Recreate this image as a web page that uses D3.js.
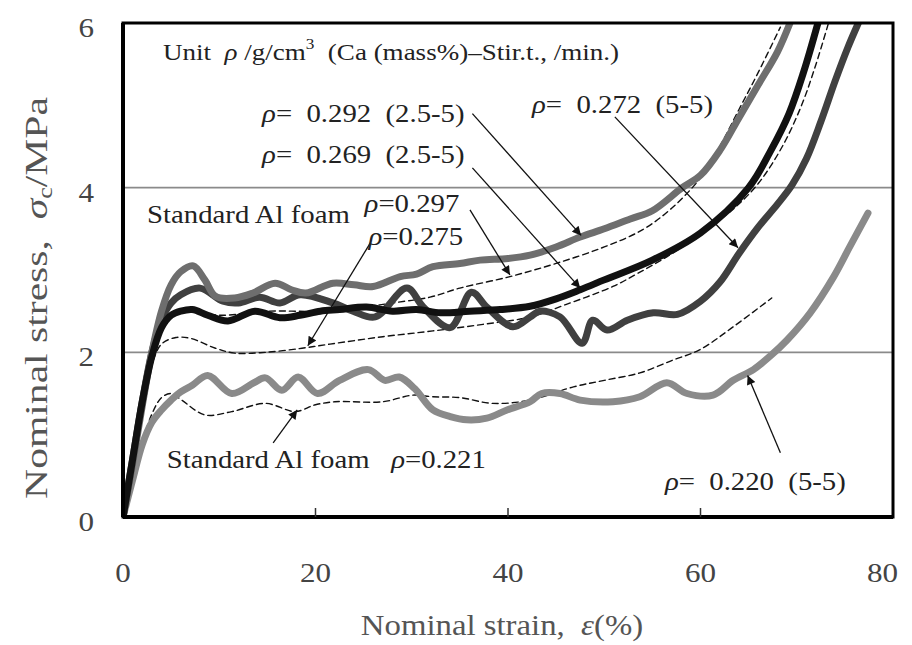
<!DOCTYPE html>
<html>
<head>
<meta charset="utf-8">
<script src="https://cdn.jsdelivr.net/npm/d3@7"></script>
<style>
  body { margin: 0; background: #fff; }
  svg { display: block; }
  text { font-family: "Liberation Serif", "Times New Roman", serif; white-space: pre; }
</style>
</head>
<body>
<svg id="chart" width="912" height="645"></svg>
<script>
// axis ticks
const xTicks = [0, 20, 40, 60, 80]
const yTicks = [0, 2, 4, 6]
const gridLines = [2, 4]

// [strain %, stress MPa]
const foam292 = [[0,0],[1,0.65],[2,1.35],[3,2.0],[4,2.5],[5,2.82],[6,2.98],[7.3,3.05],[8.5,2.88],[9.6,2.68],
  [11.6,2.66],[13.5,2.72],[15.8,2.84],[17.5,2.76],[19,2.72],[21.8,2.84],[24,2.82],[26,2.8],[28.8,2.92],
  [30.5,2.95],[32.2,3.04],[35,3.08],[37.1,3.12],[40,3.14],[42.3,3.18],[45,3.28],[47.5,3.4],[50,3.5],
  [52.7,3.62],[55,3.72],[58.1,4.0],[60,4.15],[62,4.45],[64,4.85],[66,5.25],[68,5.65],[69.3,6.0]]
const foam269 = [[0,0],[1,0.7],[2,1.4],[3,1.95],[4,2.3],[5,2.45],[6,2.5],[7.2,2.52],[8.8,2.45],[10.9,2.38],
  [13.7,2.5],[16.3,2.42],[18.4,2.45],[20.5,2.5],[22.5,2.52],[25.3,2.55],[28,2.5],[30.5,2.52],[33,2.48],
  [36,2.5],[39.2,2.52],[42.3,2.56],[45,2.65],[47.5,2.76],[50,2.88],[55,3.12],[60,3.45],[65,4.0],
  [67.3,4.45],[69.2,4.9],[70.7,5.4],[72.2,6.0]]
const foam272 = [[0,0],[1,0.7],[2,1.4],[3,2.0],[4,2.4],[5,2.6],[6,2.7],[8,2.78],[10.4,2.62],[12,2.6],
  [14.2,2.67],[16.3,2.6],[18.4,2.7],[21.8,2.6],[23.9,2.5],[26.2,2.43],[29.5,2.78],[31.2,2.55],[34,2.3],
  [36.2,2.73],[37.8,2.55],[40.5,2.31],[42.3,2.43],[43.3,2.5],[45.4,2.43],[47.7,2.11],[48.8,2.39],
  [50.3,2.27],[52.4,2.39],[55.1,2.48],[57.6,2.46],[60,2.62],[62,2.85],[64,3.2],[66,3.52],[68,3.8],
  [69.5,4.03],[71,4.35],[72.5,4.8],[74,5.3],[75.3,5.7],[76.4,6.0]]
const foam220 = [[0,0],[1,0.45],[2,0.88],[3,1.15],[4,1.3],[5,1.42],[6,1.52],[7.2,1.6],[8.8,1.72],[11.3,1.5],
  [13.6,1.63],[14.8,1.69],[16.5,1.54],[18.2,1.7],[20.2,1.5],[22.5,1.66],[25.5,1.79],[27.2,1.66],
  [28.7,1.7],[30.3,1.56],[32.2,1.3],[34,1.22],[35.7,1.18],[37.8,1.2],[39.9,1.3],[42.3,1.4],[43.5,1.5],
  [45.4,1.5],[47.5,1.42],[50.9,1.4],[53.7,1.46],[56.5,1.63],[58.6,1.5],[61.3,1.48],[63.4,1.66],
  [65.5,1.79],[67.2,1.95],[69,2.15],[71.4,2.48],[73.8,2.91],[75.5,3.28],[77.4,3.69]]
const std297 = [[0,0],[1,0.7],[2,1.45],[3,2.05],[4,2.35],[5,2.45],[7,2.5],[10,2.45],[15,2.5],[20,2.5],
  [25,2.55],[28,2.6],[31.9,2.67],[35,2.78],[40.2,2.92],[45,3.08],[50,3.28],[54,3.49],[57,3.75],
  [60,4.12],[62,4.5],[64,4.95],[66,5.4],[68.3,5.95]]
const std275 = [[0,0],[1,0.65],[2,1.3],[3,1.85],[4,2.1],[5.5,2.18],[7,2.17],[9.6,2.05],[11.6,1.99],
  [14.8,2.0],[18.6,2.05],[21.5,2.1],[27,2.19],[32.2,2.26],[37.4,2.34],[42.3,2.43],[46,2.58],[50.9,2.8],
  [53.5,2.96],[56.5,3.16],[59,3.35],[61.3,3.55],[63.5,3.75],[66,4.05],[68.5,4.5],[70.5,5.0],[72,5.5],[73.3,6.0]]
const std221 = [[0,0],[1,0.45],[2,0.9],[3,1.25],[4,1.45],[5,1.5],[6.1,1.42],[8.5,1.24],[11.3,1.28],
  [14.8,1.38],[17.9,1.28],[19.9,1.36],[22,1.4],[27,1.4],[30.1,1.48],[32.2,1.46],[35,1.45],[38.4,1.38],
  [42.3,1.42],[46.8,1.58],[50,1.66],[53.7,1.75],[57,1.9],[59.9,2.03],[63.4,2.31],[67.4,2.66]]

// annotations: text anchor and arrow [from, to] in data units
const labels = [
  {x: 4.15, y: 5.55, size: 23.5, parts: [["Unit  "], ["ρ", "i"], [" /g/cm"], ["3", "sup"], ["  (Ca (mass%)–Stir.t., /min.)", "back"]]},
  {x: 14.45, y: 4.8, parts: [["ρ", "i"], ["=  0.292  (2.5-5)"]]},
  {x: 14.45, y: 4.3, parts: [["ρ", "i"], ["=  0.269  (2.5-5)"]]},
  {x: 42.5, y: 4.91, parts: [["ρ", "i"], ["=  0.272  (5-5)"]]},
  {x: 2.5, y: 3.57, parts: [["Standard Al foam"]]},
  {x: 25.1, y: 3.7, parts: [["ρ", "i"], ["=0.297"]]},
  {x: 25.5, y: 3.3, parts: [["ρ", "i"], ["=0.275"]]},
  {x: 4.55, y: 0.6, parts: [["Standard Al foam   "], ["ρ", "i"], ["=0.221"]]},
  {x: 56.3, y: 0.33, parts: [["ρ", "i"], ["=  0.220  (5-5)"]]}
]
const arrows = [
  [[36.3, 4.9], [47.6, 3.42]],
  [[36.3, 4.24], [47.5, 2.78]],
  [[51.1, 4.86], [63.9, 3.27]],
  [[36.05, 3.73], [40.2, 2.94]],
  [[25.7, 3.33], [19.2, 2.08]],
  [[15.6, 0.9], [18.1, 1.3]],
  [[68.3, 0.78], [64.9, 1.72]]
]

const series = [
  {data: std297, color: "#111", width: 1.4, dash: "6,4"},
  {data: std275, color: "#111", width: 1.4, dash: "6,4"},
  {data: std221, color: "#111", width: 1.4, dash: "6,4"},
  {data: foam220, color: "#8a8a8a", width: 7},
  {data: foam272, color: "#404040", width: 7},
  {data: foam292, color: "#6e6e6e", width: 7},
  {data: foam269, color: "#111", width: 7}
]

// the original figure is stretched sideways, so its text is too
const stretch = 1.15

const svg = d3.select("#chart")
const margin = {left: 123, right: 19, top: 23, bottom: 128}
const width = 912 - margin.left - margin.right
const height = 645 - margin.top - margin.bottom

const x = d3.scaleLinear().domain([0, 80]).range([0, width])
const y = d3.scaleLinear().domain([0, 6]).range([height, 0])

const place = (px, py) => `translate(${px},${py}) scale(${stretch},1)`

const g = svg.append("g").attr("transform", `translate(${margin.left},${margin.top})`)

const defs = svg.append("defs")
defs.append("clipPath").attr("id", "plot")
  .append("rect").attr("width", width).attr("height", height)
defs.append("marker")
  .attr("id", "head").attr("viewBox", "0 0 10 10").attr("refX", 10).attr("refY", 5)
  .attr("markerWidth", 14).attr("markerHeight", 9).attr("markerUnits", "userSpaceOnUse")
  .attr("orient", "auto")
  .append("path").attr("d", "M0,0L10,5L0,10z").attr("fill", "#111")

g.selectAll(".grid").data(gridLines).join("line")
  .attr("x1", 0).attr("x2", width)
  .attr("y1", d => y(d)).attr("y2", d => y(d))
  .attr("stroke", "#8a8a8a").attr("stroke-width", 1.6)

const line = d3.line().x(d => x(d[0])).y(d => y(d[1])).curve(d3.curveCatmullRom.alpha(0.5))

g.append("g").attr("clip-path", "url(#plot)")
  .selectAll("path").data(series).join("path")
  .attr("d", d => line(d.data))
  .attr("fill", "none")
  .attr("stroke", d => d.color)
  .attr("stroke-width", d => d.width)
  .attr("stroke-dasharray", d => d.dash || null)
  .attr("stroke-linejoin", "round")
  .attr("stroke-linecap", "round")

// frame
g.append("rect").attr("width", width).attr("height", height)
  .attr("fill", "none").attr("stroke", "#000").attr("stroke-width", 3)
g.append("line").attr("x1", 0).attr("x2", 0).attr("y1", 0).attr("y2", height)
  .attr("stroke", "#000").attr("stroke-width", 4)
g.append("line").attr("x1", 0).attr("x2", width).attr("y1", height).attr("y2", height)
  .attr("stroke", "#000").attr("stroke-width", 4)

// inner ticks on the strain axis
g.selectAll(".xt").data(xTicks.slice(1, -1)).join("line")
  .attr("x1", d => x(d)).attr("x2", d => x(d))
  .attr("y1", height).attr("y2", height - 9)
  .attr("stroke", "#333").attr("stroke-width", 1.5)

g.selectAll(".xl").data(xTicks).join("text")
  .attr("transform", d => place(x(d) + (d === 80 ? 5 : 0), height + 65))
  .attr("text-anchor", (d, i) => i === xTicks.length - 1 ? "end" : "middle")
  .attr("font-size", 27).attr("fill", "#444")
  .text(d => d)
g.selectAll(".yl").data(yTicks).join("text")
  .attr("transform", d => place(-29, y(d) + 14))
  .attr("text-anchor", "end").attr("font-size", 27).attr("fill", "#444")
  .text(d => d)

// axis titles
const xt = g.append("text").attr("transform", place(width / 2 - 6, height + 118))
  .attr("text-anchor", "middle").attr("font-size", 28.5).attr("fill", "#555")
xt.append("tspan").text("Nominal strain,  ")
xt.append("tspan").attr("font-style", "italic").text("ε")
xt.append("tspan").text("(%)")

// the vertical title is drawn longer along its run, as in the original
const yt = svg.append("text").attr("transform", "translate(47,298) rotate(-90) scale(1.3,1)")
  .attr("text-anchor", "middle").attr("font-size", 32).attr("fill", "#555")
yt.append("tspan").text("Nominal stress,  ")
yt.append("tspan").attr("font-style", "italic").text("σ")
yt.append("tspan").attr("font-size", 20).attr("dy", 5).text("c")
yt.append("tspan").attr("dy", -5).text("/MPa")

// annotation arrows and labels
g.selectAll(".arrow").data(arrows).join("line")
  .attr("x1", d => x(d[0][0])).attr("y1", d => y(d[0][1]))
  .attr("x2", d => x(d[1][0])).attr("y2", d => y(d[1][1]))
  .attr("stroke", "#111").attr("stroke-width", 1.3)
  .attr("marker-end", "url(#head)")

labels.forEach(l => {
  const t = g.append("text").attr("transform", place(x(l.x), y(l.y)))
    .attr("font-size", l.size || 25).attr("fill", "#222")
  l.parts.forEach(([s, kind]) => {
    const sp = t.append("tspan").text(s)
    if (kind === "i") sp.attr("font-style", "italic")
    if (kind === "sup") sp.attr("font-size", 15).attr("dy", -11)
    if (kind === "back") sp.attr("dy", 11)
  })
})
</script>
</body>
</html>
